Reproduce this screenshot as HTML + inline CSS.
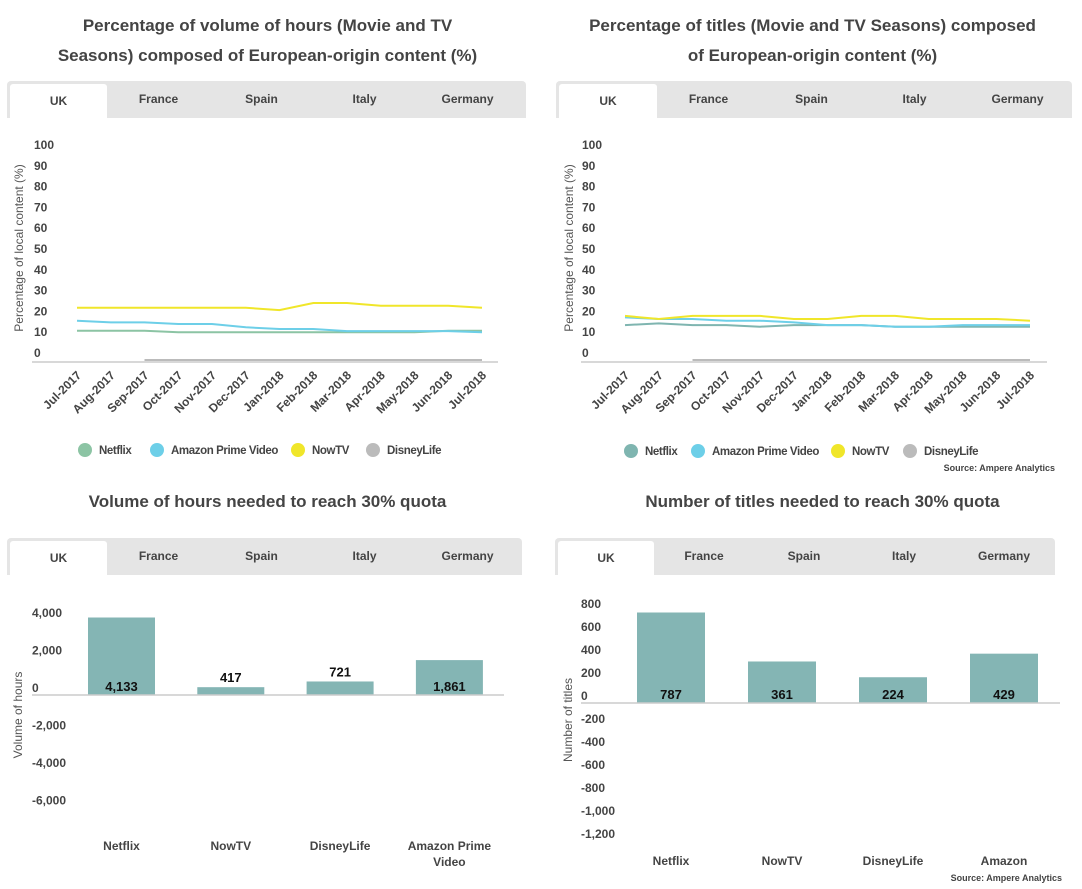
<!DOCTYPE html>
<html><head><meta charset="utf-8"><style>
body{margin:0;width:1082px;height:889px;background:#fff;font-family:"Liberation Sans",sans-serif;overflow:hidden;position:relative}
.title{position:absolute;text-align:center;font-weight:bold;font-size:17px;color:#444;line-height:30px}
.tabs{position:absolute;background:#e5e5e5;border-radius:4px 4px 0 0;height:37px;display:flex}
.tab{font-size:12px;font-weight:bold;color:#444;text-align:center;line-height:37px;cursor:pointer}
.tab.active{background:#fff;margin-top:3px;line-height:34px;border-radius:3px 3px 0 0;margin-left:3px}
svg{position:absolute;left:0;top:0}
</style></head><body>
<div class="title" style="left:0;top:11px;width:535px">Percentage of volume of hours (Movie and TV<br>Seasons) composed of European-origin content (%)</div>
<div class="title" style="left:545px;top:11px;width:535px">Percentage of titles (Movie and TV Seasons) composed<br>of European-origin content (%)</div>
<div class="title" style="left:0;top:487px;width:535px">Volume of hours needed to reach 30% quota</div>
<div class="title" style="left:545px;top:487px;width:555px">Number of titles needed to reach 30% quota</div>

<div class="tabs" style="left:7px;top:81px;width:519px">
<div class="tab active" style="width:97px">UK</div><div class="tab" style="width:103px">France</div><div class="tab" style="width:103px">Spain</div><div class="tab" style="width:103px">Italy</div><div class="tab" style="width:103px">Germany</div></div>
<div class="tabs" style="left:556px;top:81px;width:516px">
<div class="tab active" style="width:98px">UK</div><div class="tab" style="width:103px">France</div><div class="tab" style="width:103px">Spain</div><div class="tab" style="width:103px">Italy</div><div class="tab" style="width:103px">Germany</div></div>
<div class="tabs" style="left:7px;top:538px;width:515px">
<div class="tab active" style="width:97px">UK</div><div class="tab" style="width:103px">France</div><div class="tab" style="width:103px">Spain</div><div class="tab" style="width:103px">Italy</div><div class="tab" style="width:103px">Germany</div></div>
<div class="tabs" style="left:555px;top:538px;width:500px">
<div class="tab active" style="width:96px">UK</div><div class="tab" style="width:100px">France</div><div class="tab" style="width:100px">Spain</div><div class="tab" style="width:100px">Italy</div><div class="tab" style="width:100px">Germany</div></div>

<svg id="chart" width="1082" height="889" font-family="Liberation Sans, sans-serif"></svg>
<script>
const months=["Jul-2017","Aug-2017","Sep-2017","Oct-2017","Nov-2017","Dec-2017","Jan-2018","Feb-2018","Mar-2018","Apr-2018","May-2018","Jun-2018","Jul-2018"];
const pctTicks=[0,10,20,30,40,50,60,70,80,90,100];
const hoursNetflix=[14.1,14.1,14.1,13.3,13.3,13.3,13.3,13.3,13.3,13.3,13.3,14.1,14.1];
const hoursAmazon=[18.9,18.1,18.1,17.3,17.3,15.7,14.9,14.9,13.9,13.9,13.9,13.9,13.3];
const hoursNowTV=[25.1,25.1,25.1,25.1,25.1,25.1,24.0,27.4,27.4,26.1,26.1,26.1,25.1];
const hoursDisney=[null,null,0,0,0,0,0,0,0,0,0,0,0];
const titlesNetflix=[16.8,17.6,16.8,16.8,16.0,16.8,16.8,16.8,16.0,16.0,16.0,16.0,16.0];
const titlesAmazon=[20.5,19.7,19.7,18.9,18.9,18.1,16.8,16.8,16.0,16.0,16.8,16.8,16.8];
const titlesNowTV=[21.2,19.7,21.2,21.2,21.2,19.7,19.7,21.2,21.2,19.7,19.7,19.7,18.9];
const titlesDisney=[null,null,0,0,0,0,0,0,0,0,0,0,0];
const hoursCats=["Netflix","NowTV","DisneyLife","Amazon Prime|Video"];
const hoursVals=[4133,417,721,1861];
const hoursTicks=[4000,2000,0,-2000,-4000,-6000];
const titlesCats=["Netflix","NowTV","DisneyLife","Amazon"];
const titlesVals=[787,361,224,429];
const titlesTicks=[800,600,400,200,0,-200,-400,-600,-800,-1000,-1200];

const svg=document.getElementById('chart');
const NS='http://www.w3.org/2000/svg';
function mk(tag,attrs,text){const e=document.createElementNS(NS,tag);for(const k in attrs)e.setAttribute(k,attrs[k]);if(text!==undefined)e.textContent=text;svg.appendChild(e);return e;}
function fmt(v){return v.toLocaleString('en-US');}

function lineChart(o){
  const x=i=>o.x0+i*(o.x1-o.x0)/(months.length-1);
  const y=v=>o.zero-v*2.08;
  pctTicks.forEach(t=>{const e=mk('text',{x:o.tx,y:y(t)-3,'font-size':12,'font-weight':'bold',fill:'#444'},t);
    });
  const ax=mk('line',{x1:o.ax0,x2:o.ax1,y1:o.zero+2,y2:o.zero+2,stroke:'#ccc','stroke-width':1.5});
  
  const yt=mk('text',{x:0,y:0,'font-size':12,fill:'#555','text-anchor':'middle',transform:`translate(${o.ytx},248) rotate(-90)`},'Percentage of local content (%)');
  
  months.forEach((m,i)=>{const e=mk('text',{x:0,y:0,'font-size':12,'font-weight':'bold',fill:'#444','text-anchor':'end',transform:`translate(${x(i)+5},${o.zero+16}) rotate(-45)`},m);
    });
  o.series.forEach(s=>{let d='';s.vals.forEach((v,i)=>{if(v===null)return;d+=(d?'L':'M')+x(i).toFixed(1)+','+y(v).toFixed(1);});
    const p=mk('path',{d:d,fill:'none',stroke:s.color,'stroke-width':2});
    });
  o.series.forEach((s,i)=>{const c=mk('circle',{cx:o.lx[i],cy:o.ly,r:7,fill:s.color});
    
    const t=mk('text',{x:o.lx[i]+14,y:o.ly+4,'font-size':11.5,'font-weight':'bold',fill:'#444','letter-spacing':'-0.4'},s.label);
    });
}
lineChart({x0:77,x1:482,zero:360,tx:34,ax0:32,ax1:498,ytx:23,ly:450,lx:[85,157,298,373],series:[
 {name:'netflix',label:'Netflix',color:'#8cc4a4',vals:hoursNetflix},
 {name:'amazon',label:'Amazon Prime Video',color:'#6dcfe8',vals:hoursAmazon},
 {name:'nowtv',label:'NowTV',color:'#f0e62a',vals:hoursNowTV},
 {name:'disneylife',label:'DisneyLife',color:'#bbbbbb',vals:hoursDisney}]});
lineChart({x0:625,x1:1030,zero:360,tx:582,ax0:581,ax1:1047,ytx:573,ly:451,lx:[631,698,838,910],series:[
 {name:'netflix',label:'Netflix',color:'#7fb5b0',vals:titlesNetflix},
 {name:'amazon',label:'Amazon Prime Video',color:'#6dcfe8',vals:titlesAmazon},
 {name:'nowtv',label:'NowTV',color:'#f0e62a',vals:titlesNowTV},
 {name:'disneylife',label:'DisneyLife',color:'#bbbbbb',vals:titlesDisney}]});

function barChart(o){
  const y=v=>o.zero-v*o.scale;
  o.ticks.forEach(t=>{const e=mk('text',{x:o.tx,y:y(t)-3,'font-size':12,'font-weight':'bold',fill:'#444'},fmt(t));
    });
  const yt=mk('text',{x:0,y:0,'font-size':12,fill:'#555','text-anchor':'middle',transform:`translate(${o.ytx},${o.ytc}) rotate(-90)`},o.ytitle);
  
  o.cats.forEach((c,i)=>{const cx=o.c0+i*o.step,v=o.vals[i],top=y(v);
    const r=mk('rect',{x:cx-o.w/2,y:top,width:o.w,height:o.zero-top,fill:'#84b5b4'});
    
    const inside=(o.zero-top)>22;
    const vl=mk('text',{x:cx,y:inside?o.zero-4:top-5,'font-size':13,'font-weight':'bold',fill:'#111','text-anchor':'middle'},fmt(v));
    
    c.split('|').forEach((ln,j)=>{const t=mk('text',{x:cx,y:o.xly+j*16,'font-size':12,'font-weight':'bold',fill:'#444','text-anchor':'middle'},ln);
      });
  });
  const ax=mk('line',{x1:o.ax0,x2:o.ax1,y1:o.zero,y2:o.zero,stroke:'#ccc','stroke-width':1.5});
  
}
barChart({cats:hoursCats,vals:hoursVals,ticks:hoursTicks,zero:695,scale:37.5/2000,tx:32,ytx:22,ytc:715,ytitle:'Volume of hours',c0:121.5,step:109.3,w:67,xly:850,ax0:32,ax1:504});
barChart({cats:titlesCats,vals:titlesVals,ticks:titlesTicks,zero:703,scale:23/200,tx:581,ytx:572,ytc:720,ytitle:'Number of titles',c0:671,step:111,w:68,xly:865,ax0:581,ax1:1060});

[[1055,471],[1062,881]].forEach(p=>{const s=mk('text',{x:p[0],y:p[1],'font-size':9,'font-weight':'bold',fill:'#444','text-anchor':'end'},'Source: Ampere Analytics');
  });
</script>
</body></html>
